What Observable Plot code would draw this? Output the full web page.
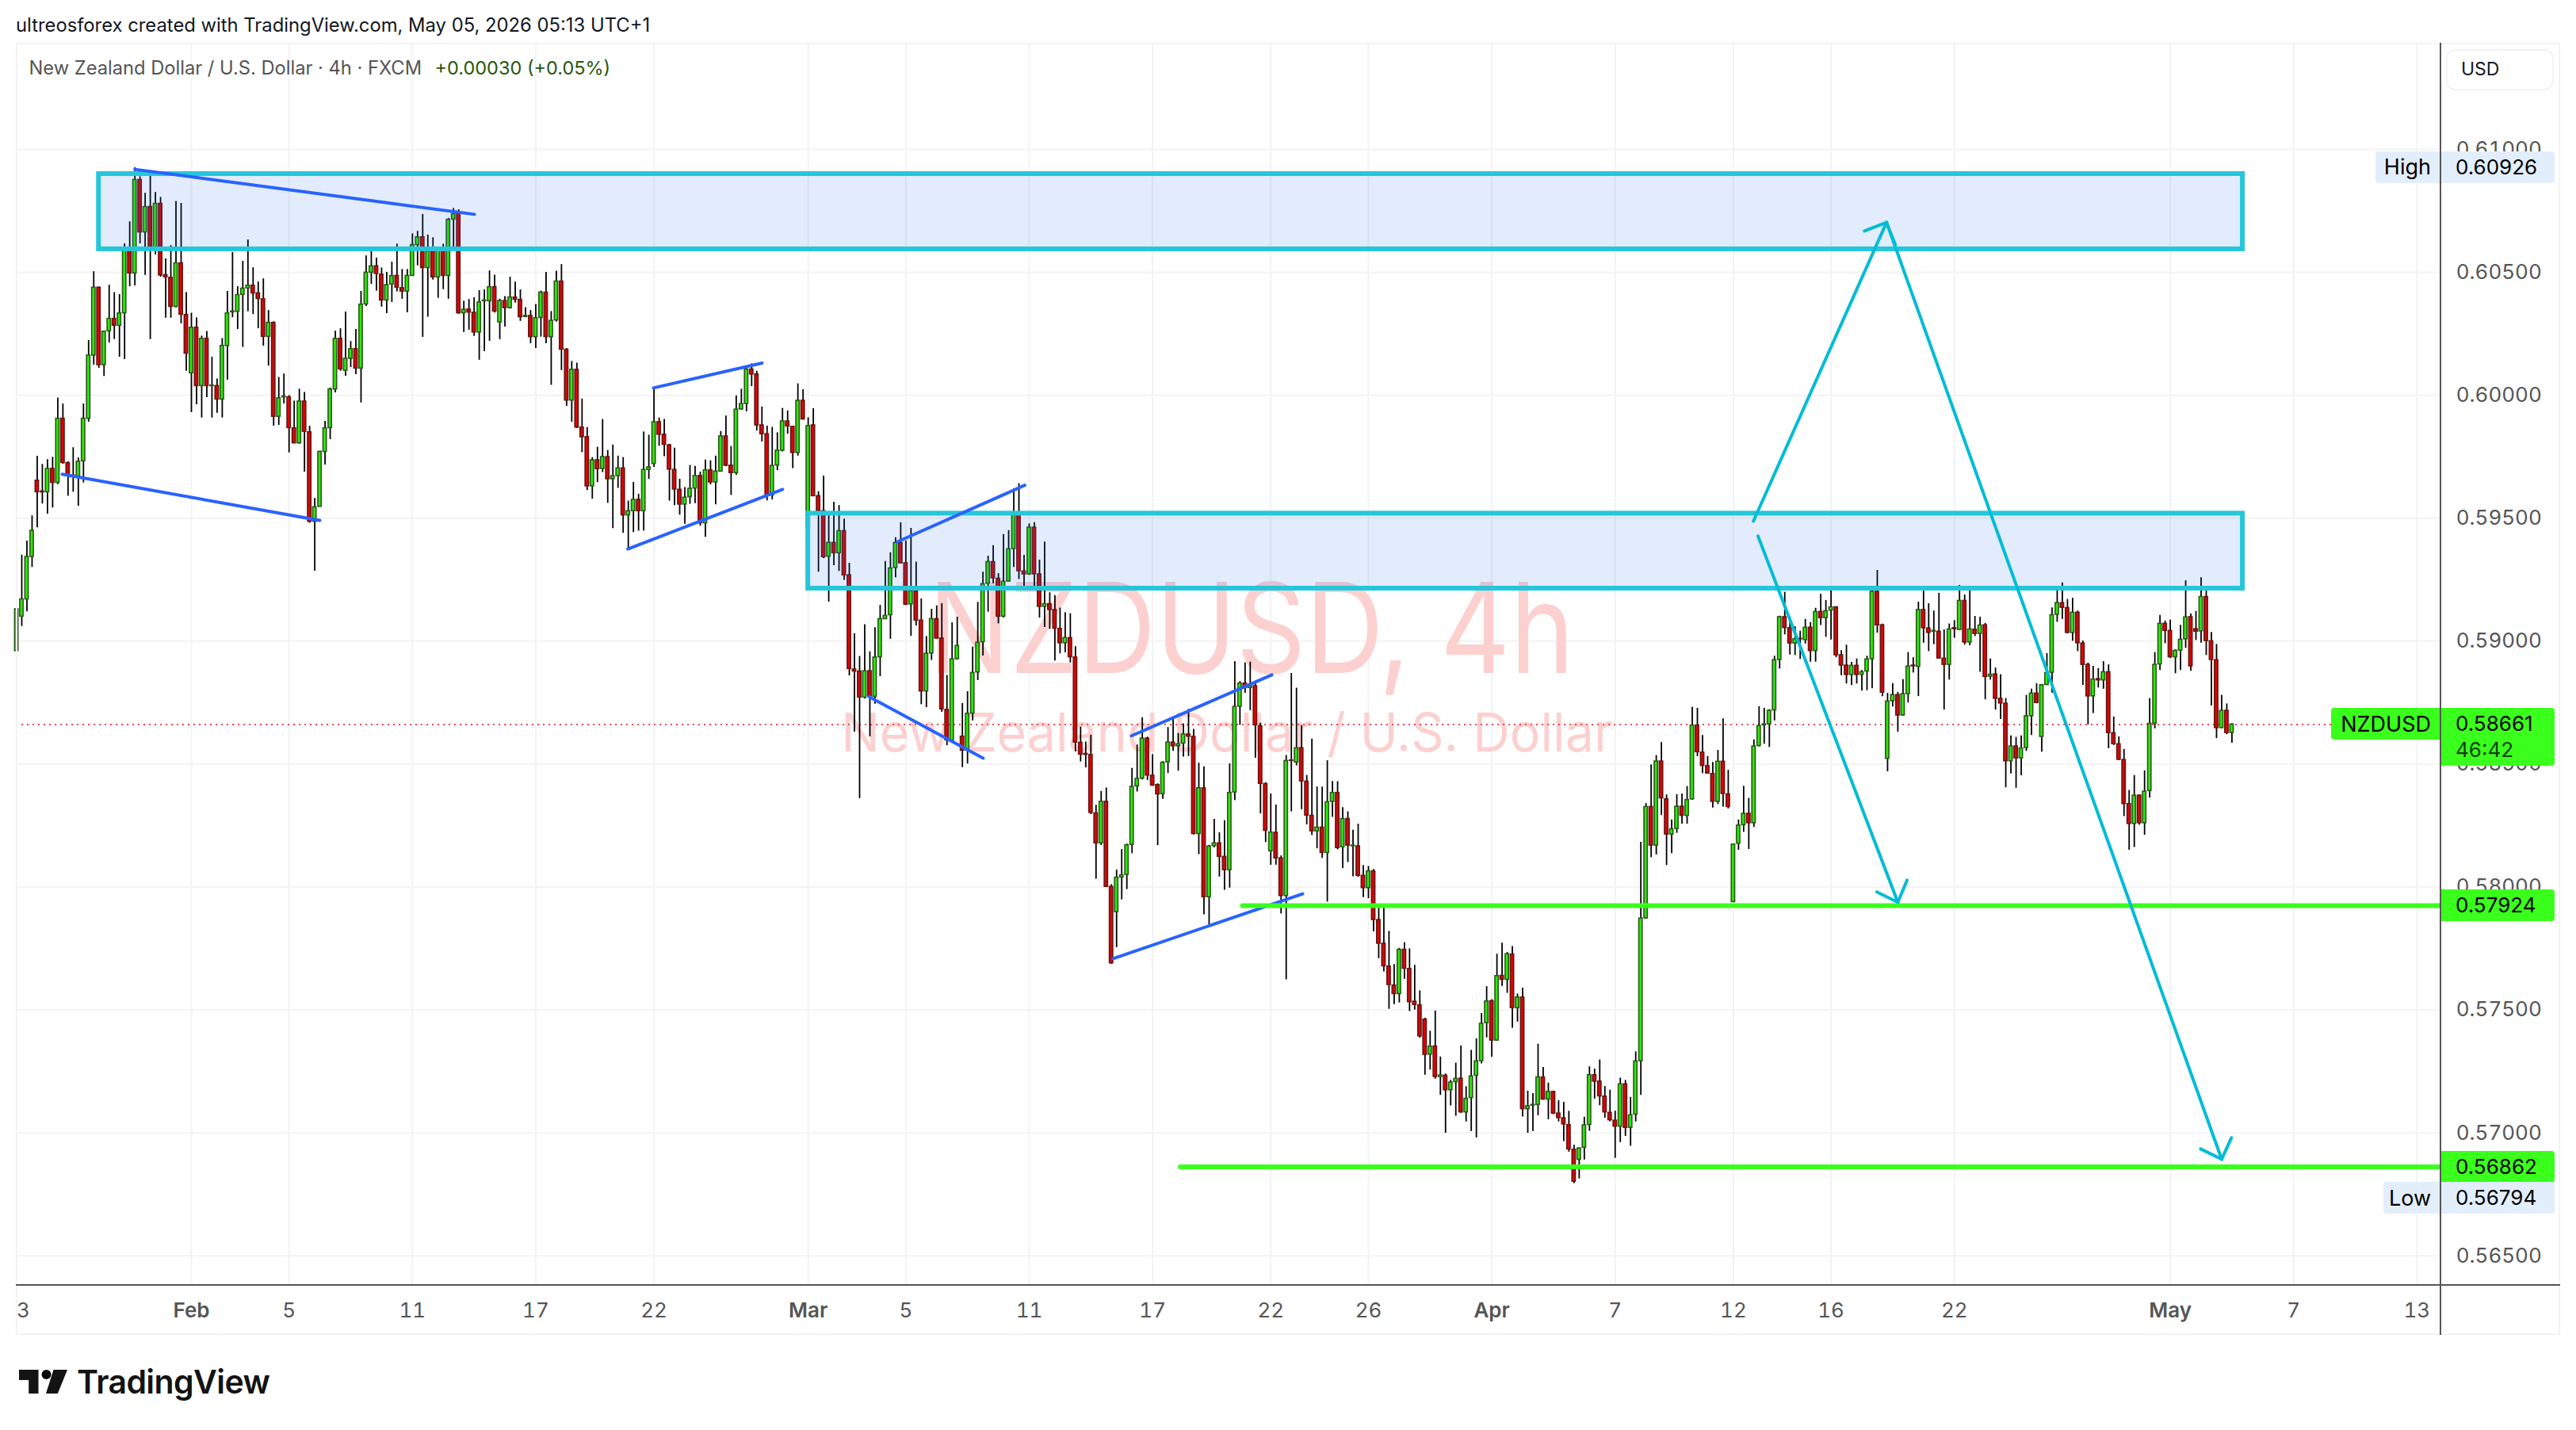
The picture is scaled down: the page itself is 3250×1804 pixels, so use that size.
<!DOCTYPE html>
<html>
<head>
<meta charset="utf-8">
<script src="https://cdn.jsdelivr.net/npm/d3@7"></script>
<script src="https://cdn.jsdelivr.net/npm/@observablehq/plot@0.6"></script>
<style>
html,body{margin:0;padding:0;background:#fff;overflow:hidden}
#page{position:relative;width:3250px;height:1804px;font-family:Inter,"Liberation Sans",sans-serif;color:#131722}
#page svg.chart{display:block;position:absolute;left:0;top:0}
.abs{position:absolute;white-space:nowrap;line-height:1}
.box{position:absolute;box-sizing:border-box}
</style>
</head>
<body>
<div id="page"></div>
<script>
// Candle prices are in points (1 point = 0.00001 USD); index = 4h bar number
const opens = [
58960,59100,59170,59343,59653,59609,59606,59701,59644,59905,
59724,59674,59671,59732,59905,60162,60438,60123,60261,60311,
60283,60334,60595,60496,60876,60663,60766,60599,60779,60489,
60478,60360,60537,60327,60090,60275,60038,60230,60038,60038,
59983,60201,60338,60340,60409,60435,60446,60415,60391,60238,
60295,59913,59992,59992,59866,59805,59975,59850,59486,59547,
59770,59867,60024,60230,60100,60149,60188,60109,60370,60499,
60525,60491,60386,60451,60486,60436,60422,60486,60611,60643,
60518,60585,60480,60588,60486,60715,60738,60334,60349,60336,
60256,60383,60383,60440,60297,60384,60355,60398,60388,60319,
60323,60237,60315,60418,60237,60305,60463,60186,59979,60104,
59869,59830,59630,59736,59701,59749,59659,59672,59703,59512,
59529,59575,59529,59697,59721,59891,59840,59797,59697,59616,
59556,59586,59621,59672,59480,59695,59646,59690,59833,59714,
59684,59943,59965,60105,60085,59878,59842,59593,59715,59775,
59894,59872,59766,59978,59460,59878,59590,59529,59344,59400,
59358,59448,59268,58885,58877,58771,58878,58774,58935,59090,
59106,59298,59400,59317,59150,59204,59084,58796,58950,59090,
59011,58721,58595,58927,58612,58555,58706,58873,58996,59234,
59322,59254,59100,59243,59375,59519,59284,59272,59462,59272,
59140,59151,59127,59050,58992,59013,58934,58587,58542,58538,
58300,58178,58347,58001,57898,58039,58050,58172,58410,58441,
58604,58453,58415,58378,58508,58588,58573,58584,58621,58611,
58216,58402,57959,58167,58178,58123,58069,58385,58734,58828,
58810,58817,58654,58419,58146,58221,58117,57964,58515,58507,
58565,58429,58290,58227,58242,58139,58347,58383,58162,58277,
58166,58166,58046,57996,58064,57866,57770,57677,57600,57565,
57745,57667,57534,57519,57461,57319,57352,57228,57233,57174,
57207,57221,57084,57142,57233,57292,57447,57536,57376,57639,
57623,57726,57508,57551,57097,57111,57114,57226,57136,57167,
57079,57060,57032,56932,56891,56940,57033,57235,57209,57148,
57082,57050,57026,57198,57021,57075,57292,57873,58326,58169,
58511,58357,58214,58237,58327,58290,58357,58657,58547,58492,
58460,58347,58510,58377,57939,58177,58252,58298,58260,58574,
58658,58662,58719,58924,59098,59053,58991,59010,59005,59055,
58960,59119,59094,59125,59138,58943,58901,58863,58900,58863,
58877,58927,59201,59065,58522,58756,58781,58698,58785,58901,
58896,59127,59052,59039,59039,58929,58904,59053,59046,59164,
58995,59047,59030,59065,58856,58865,58766,58746,58512,58572,
58524,58566,58695,58787,58611,58822,58872,59108,59155,59135,
59034,59116,58991,58904,58776,58846,58841,58874,58626,58581,
58517,58338,58257,58372,58260,58391,58665,58906,59071,59042,
58935,58962,59008,59098,59049,59040,59180,59000,58923,58647,
58717,58627];
const highs = [
59170,59350,59407,59510,59752,59719,59739,59748,59989,59965,
59730,59787,59746,59965,60223,60503,60440,60262,60448,60418,
60410,60616,60706,60926,60889,60822,60892,60825,60805,60555,
60609,60789,60781,60418,60334,60315,60241,60260,60155,60067,
60231,60423,60581,60442,60545,60632,60519,60461,60474,60345,
60299,60073,60087,59999,59977,60025,60012,59874,59581,59773,
59894,60030,60261,60271,60339,60219,60268,60423,60567,60600,
60558,60518,60500,60542,60615,60512,60512,60657,60667,60736,
60652,60641,60590,60615,60720,60760,60755,60383,60390,60397,
60426,60429,60506,60489,60391,60402,60481,60461,60429,60357,
60345,60370,60424,60500,60341,60505,60532,60190,60138,60131,
59985,59869,59747,59789,59902,59776,59798,59753,59747,59570,
59646,59598,59851,59838,60030,59908,59902,59801,59785,59659,
59625,59715,59711,59688,59737,59734,59753,59853,59916,59792,
59998,60025,60115,60128,60098,59953,59875,59870,59848,59947,
59937,59874,60047,60023,59909,59946,59608,59672,59525,59565,
59552,59497,59317,59031,58938,59067,58957,59055,59146,59324,
59360,59421,59482,59408,59459,59322,59172,59019,59130,59144,
59153,58861,59075,59098,58747,58795,58976,59158,59281,59346,
59389,59275,59434,59450,59620,59641,59349,59477,59482,59330,
59403,59197,59186,59135,59116,59112,58978,58651,58590,58618,
58333,58389,58403,58010,58069,58153,58175,58483,58578,58689,
58610,58539,58420,58510,58649,58683,58625,58664,58723,58642,
58504,58489,58170,58276,58221,58270,58501,58917,58836,58912,
58915,58828,58667,58425,58379,58334,58127,58535,58869,58809,
58657,58454,58602,58407,58407,58514,58430,58429,58323,58306,
58231,58256,58088,58084,58072,57926,57930,57820,57685,57751,
57774,57749,57682,57578,57467,57414,57496,57309,57240,57214,
57284,57354,57188,57336,57383,57486,57595,57542,57727,57772,
57734,57758,57565,57589,57170,57160,57361,57267,57203,57170,
57132,57125,57088,56950,56940,57064,57269,57260,57297,57189,
57174,57089,57223,57214,57145,57330,58182,58340,58497,58535,
58588,58375,58273,58376,58379,58409,58731,58727,58617,58531,
58507,58556,58684,58475,58175,58273,58410,58361,58599,58734,
58727,58722,58939,59102,59199,59098,59059,59041,59089,59076,
59134,59191,59166,59218,59140,58962,58984,58914,58928,58881,
58939,59209,59288,59070,58788,58828,58792,58844,58954,58933,
59159,59204,59153,59123,59195,59046,59070,59084,59227,59188,
59207,59101,59098,59073,58928,58891,58864,58767,58615,58609,
58615,58780,58805,58827,58825,58950,59136,59215,59237,59170,
59175,59123,59001,58911,58898,58889,58917,58904,58692,58611,
58560,58393,58454,58375,58473,58767,58954,59105,59082,59086,
58965,59065,59246,59111,59121,59258,59204,59036,58987,58780,
58745,58665];
const lows = [
58930,59060,59120,59300,59461,59558,59517,59542,59637,59720,
59590,59606,59549,59644,59891,60123,60110,60077,60213,60227,
60155,60146,60442,60445,60616,60488,60227,60571,60481,60314,
60314,60356,60291,60098,59930,59962,59908,59991,59908,59927,
59908,60062,60316,60268,60195,60340,60329,60271,60200,60119,
59875,59878,59965,59766,59805,59802,59688,59480,59285,59545,
59717,59820,60010,60098,60078,60113,60084,59969,60362,60452,
60424,60359,60333,60378,60421,60391,60336,60485,60527,60236,
60318,60469,60395,60430,60391,60598,60330,60256,60265,60240,
60143,60178,60220,60335,60227,60278,60351,60375,60301,60316,
60210,60191,60237,60210,60041,60298,60101,59955,59891,59865,
59767,59613,59578,59645,59686,59561,59458,59622,59439,59374,
59442,59448,59448,59658,59707,59793,59751,59570,59552,59513,
59476,59557,59560,59468,59423,59636,59555,59688,59710,59593,
59675,59940,59933,60036,59855,59810,59571,59575,59694,59770,
59842,59702,59753,59900,59455,59590,59281,59336,59159,59307,
59284,59248,58859,58630,58360,58765,58611,58744,58856,59088,
59008,59258,59315,59145,59020,59062,58742,58730,58922,59009,
58711,58575,58590,58925,58486,58501,58676,58840,58940,59118,
59234,59071,59095,59240,59300,59251,59210,59268,59218,59094,
59056,59048,58920,58949,58953,58912,58550,58509,58485,58295,
58032,58169,57999,57686,57754,57948,57990,58136,58387,58436,
58434,58410,58169,58357,58462,58552,58472,58529,58531,58212,
58132,57887,57847,58160,58041,57987,57996,58352,58658,58788,
58718,58524,58298,58181,58089,58089,57891,57623,58306,58493,
58315,58253,58210,58156,58117,57939,58284,58152,58075,58100,
58042,58040,57957,57953,57818,57709,57655,57503,57522,57529,
57625,57494,57500,57386,57235,57256,57219,57153,56999,57110,
57068,57080,57045,57006,56980,57281,57387,57308,57373,57596,
57568,57426,57451,57065,56999,57006,57070,57134,57054,57075,
57045,56965,56922,56794,56813,56890,57007,57138,57111,57060,
57045,56897,56961,56986,56946,57045,57153,57870,58120,58131,
58291,58088,58136,58219,58256,58256,58354,58531,58461,58461,
58322,58336,58326,58318,57937,58150,58223,58153,58243,58570,
58581,58568,58676,58887,59026,58944,58942,58926,58989,58915,
58915,59064,59016,59005,58933,58860,58826,58820,58826,58797,
58799,58807,59033,58775,58469,58733,58630,58695,58749,58871,
58775,58992,58958,58986,58928,58720,58842,59012,59044,58984,
58982,59019,58874,58762,58842,58720,58682,58404,58460,58402,
58453,58552,58617,58746,58549,58821,58789,59077,59089,59030,
59000,58958,58820,58660,58706,58810,58805,58563,58576,58515,
58287,58150,58161,58252,58211,58362,58644,58881,58990,58930,
58868,58881,58971,58878,59003,58992,58942,58737,58604,58645,
58620,58585];
const closes = [
59130,59170,59343,59449,59606,59606,59701,59644,59905,59725,
59676,59670,59730,59905,60162,60438,60123,60259,60311,60283,
60333,60595,60496,60876,60663,60766,60599,60779,60488,60480,
60360,60537,60328,60170,60275,60038,60230,60038,60040,59983,
60201,60333,60341,60408,60434,60446,60415,60392,60238,60295,
59913,59988,59996,59867,59805,59975,59852,59486,59545,59770,
59866,60024,60230,60106,60149,60188,60109,60369,60499,60525,
60494,60386,60449,60485,60438,60422,60486,60611,60643,60518,
60585,60480,60587,60486,60714,60737,60334,60348,60337,60256,
60378,60386,60440,60341,60384,60355,60398,60389,60318,60323,
60237,60314,60418,60237,60303,60463,60186,59979,60104,59869,
59830,59630,59736,59700,59749,59659,59671,59703,59512,59529,
59575,59529,59697,59707,59891,59840,59799,59698,59617,59556,
59584,59620,59672,59480,59695,59646,59690,59833,59714,59684,
59942,59965,60105,60085,59878,59842,59593,59713,59775,59894,
59874,59766,59978,59902,59875,59590,59529,59342,59400,59358,
59448,59268,58887,58877,58771,58878,58776,58934,59090,59103,
59296,59400,59317,59149,59204,59084,58796,58949,59090,59011,
58723,58597,58926,58981,58555,58705,58871,58994,59232,59322,
59256,59100,59242,59374,59519,59285,59272,59462,59272,59140,
59151,59127,59051,58992,59013,58935,58588,58539,58538,58302,
58178,58347,58001,57690,58038,58048,58170,58408,58440,58604,
58454,58413,58377,58506,58588,58573,58581,58621,58612,58216,
58402,57959,58165,58178,58123,58069,58383,58733,58828,58810,
58817,58658,58420,58229,58222,58117,57964,58513,58513,58565,
58430,58291,58227,58242,58139,58345,58383,58159,58277,58169,
58169,58046,57996,58064,57866,57770,57678,57602,57565,57745,
57668,57532,57521,57393,57318,57351,57228,57234,57174,57205,
57220,57084,57139,57230,57291,57444,57535,57376,57638,57623,
57727,57508,57551,57097,57109,57114,57226,57136,57167,57079,
57061,57035,56933,56802,56937,57031,57235,57209,57149,57084,
57052,57026,57198,57021,57072,57291,57872,58326,58169,58511,
58361,58214,58235,58327,58290,58354,58657,58549,58493,58462,
58347,58510,58379,58326,58173,58250,58298,58260,58572,58655,
58662,58717,58923,59098,59054,58991,59008,59008,59055,58960,
59119,59094,59122,59138,58943,58901,58863,58900,58863,58874,
58926,59201,59065,58791,58755,58781,58698,58785,58897,58898,
59127,59053,59034,59042,58930,58904,59048,59049,59164,58995,
59048,59030,59064,58855,58864,58766,58747,58512,58572,58524,
58564,58695,58787,58749,58821,58871,59106,59155,59136,59034,
59116,58992,58904,58776,58844,58841,58874,58627,58582,58518,
58338,58257,58372,58260,58388,58664,58904,59071,59042,58935,
58961,59006,59097,58898,59039,59180,59001,58924,58647,58717,
58627,58661];

const priceTicks = [0.565,0.57,0.575,0.58,0.585,0.59,0.595,0.6,0.605,0.61];
const dayTickBars = [1.3,53,77,101,124,173,197,221,244,263,311,334,353,377,443,467];
const dayTickLabels = ["3","5","11","17","22","5","11","17","22","26","7","12","16","22","7","13"];
const monthTickBars = [34,154,287,419];
const monthTickLabels = ["Feb","Mar","Apr","May"];
const lastPrice = 0.58661;
const highPrice = 0.60926;
const lowPrice = 0.56794;
const levelPrices = [0.57924,0.56862];
const levelStartBars = [238.5,226.4];
const zoneBar1 = [16,154], zoneBar2 = [433.1,433.1];
const zoneTop = [0.60900,0.59519], zoneBottom = [0.60594,0.59214];
const trendBar1 = [23.0,8.87,123.9,118.9,171.35,165.84,216.9,213.3];
const trendPrice1 = [0.60919,0.59679,0.60030,0.59375,0.59404,0.58774,0.58615,0.57709];
const trendBar2 = [89.05,58.98,145.03,149.03,196.13,188.05,244.2,250.2];
const trendPrice2 = [0.60736,0.59491,0.60131,0.59617,0.59634,0.58524,0.58863,0.57972];
const arrowBar1 = [337.9,359.5,365.5,363.8,424.9,430.9,338.8,361.9,367.8];
const arrowPrice1 = [0.59488,0.60668,0.60613,0.60703,0.56935,0.56980,0.59427,0.57980,0.58028];
const arrowBar2 = [363.8,363.8,363.8,429.0,429.0,429.0,366.0,366.0,366.0];
const arrowPrice2 = [0.60703,0.60703,0.60703,0.56893,0.56893,0.56893,0.57938,0.57938,0.57938];

const xDomain = [-0.077,471.6];
const yDomain = [0.56381,0.61432];
const bars = opens.map((o,i)=>({i,o:o/1e5,h:highs[i]/1e5,l:lows[i]/1e5,c:closes[i]/1e5}));
const upBars = bars.filter(d=>d.c>=d.o), downBars = bars.filter(d=>d.c<d.o);
const halfBody = 0.33;
const idx = a => a.map((_,i)=>i);
const gridColor = "#f3f3f3";
const axisTextColor = "#555555";
const dayLabel = new Map(dayTickBars.map((b,i)=>[b,dayTickLabels[i]]));
const monthLabel = new Map(monthTickBars.map((b,i)=>[b,monthTickLabels[i]]));
const watermarkTitle = "NZDUSD, 4h", watermarkSubtitle = "New Zealand Dollar / U.S. Dollar";

const chart = Plot.plot({
  width:3250, height:1804,
  marginTop:54, marginBottom:183.3, marginLeft:20, marginRight:171.3,
  style:{fontFamily:"Inter, sans-serif",background:"transparent"},
  x:{type:"linear",domain:xDomain},
  y:{type:"linear",domain:yDomain},
  marks:[
    Plot.gridY(priceTicks,{stroke:gridColor,strokeWidth:2,strokeOpacity:1}),
    Plot.gridX(dayTickBars.slice(1).concat(monthTickBars),{stroke:gridColor,strokeWidth:2,strokeOpacity:1}),
    Plot.text([watermarkTitle],{x:()=>240.2,y:()=>0.58869,text:d=>d,textAnchor:"middle",lineAnchor:"bottom",fontSize:158,fill:"#fdd0d0",fontWeight:400}),
    Plot.text([watermarkSubtitle],{x:()=>235.5,y:()=>0.58551,text:d=>d,textAnchor:"middle",lineAnchor:"bottom",fontSize:67,fill:"#fdd0d0",fontWeight:400}),
    Plot.ruleY([lastPrice],{x1:xDomain[0],x2:451.5,stroke:"#f5484f",strokeWidth:2,strokeDasharray:"2 5"}),
    Plot.ruleX(bars,{x:"i",y1:"l",y2:"h",stroke:"#000",strokeWidth:1.8}),
    Plot.rect(upBars,{x1:d=>d.i-halfBody,x2:d=>d.i+halfBody,y1:"o",y2:"c",fill:"#2ee80a",stroke:"#2a5a18",strokeWidth:1.6}),
    Plot.rect(downBars,{x1:d=>d.i-halfBody,x2:d=>d.i+halfBody,y1:"o",y2:"c",fill:"#d40808",stroke:"#6b1410",strokeWidth:1.6}),
    Plot.rect(idx(zoneTop),{x1:i=>zoneBar1[i],x2:i=>zoneBar2[i],y1:i=>zoneTop[i],y2:i=>zoneBottom[i],fill:"#216ee6",fillOpacity:0.13,stroke:"#26c6da",strokeWidth:6}),
    Plot.link(idx(trendBar1),{x1:i=>trendBar1[i],y1:i=>trendPrice1[i],x2:i=>trendBar2[i],y2:i=>trendPrice2[i],stroke:"#2962ff",strokeWidth:4,strokeLinecap:"round"}),
    Plot.link(idx(levelPrices),{x1:i=>levelStartBars[i],y1:i=>levelPrices[i],x2:()=>xDomain[1],y2:i=>levelPrices[i],stroke:"#3aff1c",strokeWidth:6,strokeLinecap:"round"}),
    Plot.link(idx(arrowBar1),{x1:i=>arrowBar1[i],y1:i=>arrowPrice1[i],x2:i=>arrowBar2[i],y2:i=>arrowPrice2[i],stroke:"#00bcd4",strokeWidth:4,strokeLinecap:"round"}),
    Plot.axisY({anchor:"right",ticks:priceTicks,tickSize:0,tickPadding:19.5,tickFormat:d3.format(".5f"),fontSize:26,fill:axisTextColor,label:null}),
    Plot.axisX({ticks:dayTickBars,tickSize:0,tickPadding:22,tickFormat:d=>dayLabel.get(d),fontSize:26,fill:axisTextColor,label:null}),
    Plot.axisX({ticks:monthTickBars,tickSize:0,tickPadding:22,tickFormat:d=>monthLabel.get(d),fontSize:26,fontWeight:600,fill:axisTextColor,label:null})
  ]
});
chart.setAttribute("class",(chart.getAttribute("class")||"")+" chart");
// the reference's watermark face is narrower than Inter: fit it to the same widths
chart.querySelectorAll("text").forEach(t=>{
  const fit = t.textContent===watermarkTitle ? 815 : t.textContent===watermarkSubtitle ? 974 : 0;
  if(fit){t.setAttribute("textLength",fit);t.setAttribute("lengthAdjust","spacingAndGlyphs");}
});
const page = document.getElementById("page");
page.appendChild(chart);
const yS = v => chart.scale("y").apply(v);

function box(l,t,w,h,css){const d=document.createElement("div");d.className="box";d.style.cssText=`left:${l}px;top:${t}px;width:${w}px;height:${h}px;${css||""}`;page.appendChild(d);return d;}
function label(txt,l,cy,size,color,weight){const d=document.createElement("div");d.className="abs";d.textContent=txt;d.style.cssText=`left:${l}px;top:${cy-size/2}px;font-size:${size}px;line-height:${size}px;color:${color};font-weight:${weight||400}`;page.appendChild(d);return d;}
const rightLabel=(txt,r,cy,size,color)=>{const d=label(txt,0,cy,size,color);d.style.left="auto";d.style.right=(3250-r)+"px";return d;};

// pane frame and axis separators
box(20,54,3210,1630,"border:2px solid #f3f3f3");
box(20,1619.7,3210,2.4,"background:#555");

// header and legend
label("ultreosforex created with TradingView.com, May 05, 2026 05:13 UTC+1",20,32,23.8,"#131722");
label("New Zealand Dollar / U.S. Dollar · 4h · FXCM",36.5,86,23.7,"#555");
label("+0.00030 (+0.05%)",548.5,86,23.5,"#27560c");

// currency button
box(3086,62,136,52,"border:2px solid #f3f3f3;border-radius:12px");
label("USD",3105,87,23,"#131722");

// price tags
const blueTag="#e3eefc", greenTag="#3aff1c";
const tagL=3080,tagW=143;
function priceTag(price,bg,name,nameLeft,shift,extra){
  const cy=yS(price)+(shift||0);
  if(name){box(nameLeft,cy-20,tagL-nameLeft,40,`background:${bg};border-radius:4px 0 0 4px`);rightLabel(name,3067,cy,27,"#000");}
  box(tagL,cy-20,tagW,extra?73:40,`background:${bg};border-radius:0 4px 4px 0`);
  label(d3.format(".5f")(price),3098,cy,26,"#000");
  if(extra)label(extra,3098,cy+33,26,"#12400a");
}
priceTag(highPrice,blueTag,"High",2997);
priceTag(lastPrice,greenTag,"NZDUSD",2941,0,"46:42");
priceTag(levelPrices[0],greenTag);
priceTag(levelPrices[1],greenTag);
priceTag(lowPrice,blueTag,"Low",3007,18.5);

box(3077.7,54,2.2,1630,"background:#555");

// TradingView logo
const logo=document.createElementNS("http://www.w3.org/2000/svg","svg");
logo.setAttribute("width","62");logo.setAttribute("height","32");logo.setAttribute("viewBox","0 0 62 32");
logo.style.cssText="position:absolute;left:23.5px;top:1727px";
logo.innerHTML='<path fill="#131313" d="M0 1h24.5v30H12.2V14H0z"/><circle cx="34.5" cy="7" r="6"/><path fill="#131313" d="M43.5 1H61L48.8 31H34z"/>';
page.appendChild(logo);
const tv=label("TradingView",97,1743,41,"#131313",600);tv.style.letterSpacing="-0.6px";
</script>
</body>
</html>
